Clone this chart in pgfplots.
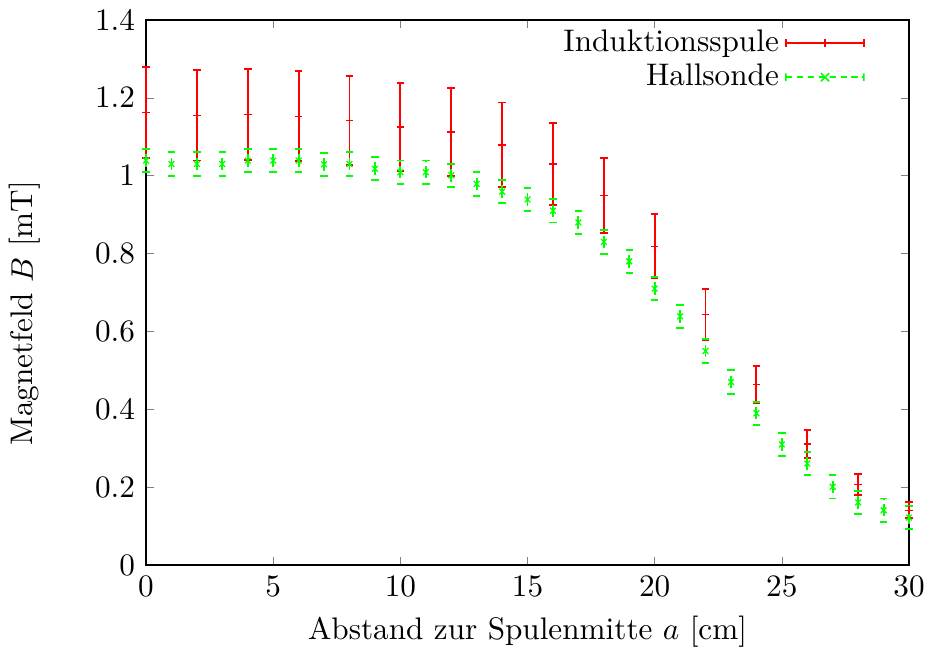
\documentclass[border=0pt]{standalone}
\usepackage{pgfplots}
\pgfplotsset{compat=1.18}
\usepackage{pgfplotstable}
\definecolor{gpred}{RGB}{255,0,0}
\definecolor{gpgreen}{RGB}{0,255,0}

\pgfplotstableread{
x y e
0 1.162 0.117
2 1.155 0.116
4 1.158 0.117
6 1.153 0.116
8 1.142 0.115
10 1.125 0.113
12 1.112 0.113
14 1.079 0.109
16 1.030 0.105
18 0.949 0.097
20 0.819 0.083
22 0.644 0.066
24 0.464 0.048
26 0.311 0.035
28 0.207 0.026
30 0.141 0.021
}\induktion

\pgfplotstableread{
x y e
0 1.039 0.03
1 1.030 0.03
2 1.030 0.03
3 1.030 0.03
4 1.039 0.03
5 1.039 0.03
6 1.039 0.03
7 1.029 0.03
8 1.030 0.03
9 1.018 0.03
10 1.009 0.03
11 1.009 0.03
12 1.001 0.03
13 0.979 0.03
14 0.959 0.03
15 0.939 0.03
16 0.910 0.03
17 0.880 0.03
18 0.830 0.03
19 0.780 0.03
20 0.710 0.03
21 0.639 0.03
22 0.550 0.03
23 0.470 0.03
24 0.390 0.03
25 0.310 0.03
26 0.261 0.03
27 0.201 0.03
28 0.161 0.03
29 0.141 0.03
30 0.122 0.03
}\hall

\begin{document}
\begin{tikzpicture}
\begin{axis}[
  name=ax,
  scale only axis,
  width=244.5pt, height=174.7pt,
  xmin=0, xmax=30, ymin=0, ymax=1.4,
  xtick={0,5,...,30},
  ytick={0,0.2,...,1.4},
  yticklabel style={/pgf/number format/fixed,/pgf/number format/precision=1},
  major tick length=2.5pt,
  tick align=inside,
  clip=false,
  xlabel={Abstand zur Spulenmitte $a$ [cm]},
  ylabel={Magnetfeld $B$ [mT]},
  x label style={at={(axis description cs:0.5,-0.1225)}, anchor=center},
  y label style={at={(axis description cs:-0.1587,0.462)}, anchor=center},
  legend plot pos=right,
  legend cell align=right,
  legend style={draw=none, fill=none, at={(rel axis cs:1,1)}, anchor=north east,
    xshift=-14pt, yshift=-1pt, inner sep=0pt, row sep=-1.5pt,
    nodes={inner sep=2pt}},
]
\addplot[color=gpred, draw=gpred, only marks, mark=+, mark size=1.2pt,
  error bars/.cd, y dir=both, y explicit,
  error bar style={draw=gpred, color=gpred, solid, line width=0.6pt},
  error mark options={draw=gpred, color=gpred, mark size=1.2pt, rotate=90, line width=0.6pt},
  /pgfplots/.cd,
  legend image code/.code={
    \draw[gpred, line width=0.5pt] (2.7pt,0pt) -- (27.7pt,0pt);
    \draw[gpred, line width=0.5pt] (2.7pt,-1.2pt) -- (2.7pt,1.2pt)
      (27.7pt,-1.2pt) -- (27.7pt,1.2pt) (15.2pt,-1.2pt) -- (15.2pt,1.2pt);
  }]
  table[x=x, y=y, y error=e] {\induktion};
\addlegendentry{Induktionsspule}
\addplot[color=gpgreen, draw=gpgreen, only marks, mark=x, mark size=1.3pt,
  error bars/.cd, y dir=both, y explicit,
  error bar style={draw=gpgreen, color=gpgreen, dash pattern=on 2pt off 1.5pt, line width=0.6pt},
  error mark options={draw=gpgreen, color=gpgreen, solid, mark size=1.2pt, rotate=90, line width=0.6pt},
  /pgfplots/.cd,
  legend image code/.code={
    \draw[gpgreen, line width=0.5pt, dash pattern=on 2pt off 1.5pt] (2.7pt,0pt) -- (27.7pt,0pt);
    \draw[gpgreen, line width=0.5pt] (2.7pt,-1.2pt) -- (2.7pt,1.2pt)
      (27.7pt,-1.2pt) -- (27.7pt,1.2pt)
      (13.9pt,-1.3pt) -- (16.5pt,1.3pt) (13.9pt,1.3pt) -- (16.5pt,-1.3pt);
  }]
  table[x=x, y=y, y error=e] {\hall};
\addlegendentry{Hallsonde}
\end{axis}
\pgfresetboundingbox
\path ([shift={(-46.8pt,-28.8pt)}]ax.south west) rectangle ([shift={(7.05pt,6.4pt)}]ax.north east);
\end{tikzpicture}
\end{document}
